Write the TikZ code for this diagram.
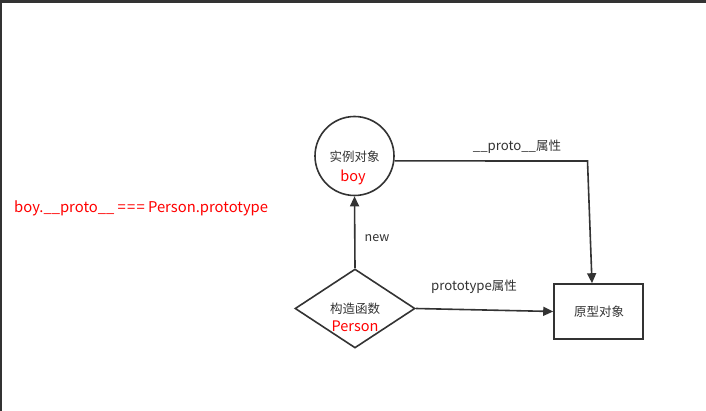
\documentclass[tikz,border=0pt]{standalone}
\usepackage{fontspec}
\setmainfont{Noto Sans CJK SC}
\newfontfamily\cjk{Noto Sans CJK SC}
\usetikzlibrary{shapes.geometric,arrows.meta}
\definecolor{ink}{HTML}{333333}
\definecolor{redtxt}{HTML}{FF0000}
\begin{document}
\begin{tikzpicture}[x=1pt,y=-1pt,
  shapeline/.style={draw=ink,line width=1.6pt,inner sep=0pt},
  conn/.style={draw=ink,line width=1.6pt,-{Triangle[length=10pt,width=9pt]}},
  lbl/.style={text=ink,font=\fontsize{13.2}{15}\selectfont,inner sep=0pt},
  cjklbl/.style={text=ink,font=\cjk\fontsize{12.5}{14}\selectfont,inner sep=0pt},
  redlbl/.style={text=redtxt,font=\fontsize{14.5}{16}\selectfont,inner sep=0pt}]
\useasboundingbox (0,0) rectangle (706,411);
\fill[white] (0,0) rectangle (706,411);
\fill[ink] (0,0) rectangle (706,3);
\fill[ink] (0,0) rectangle (2,411);
% nodes
\node[shapeline,circle,minimum size=79pt] (boy) at (354.5,156) {};
\node[cjklbl] (boyt1) at (354.5,157) {实例对象};
\node[redlbl] (boyt2) at (353,177) {boy};
\node[shapeline,diamond,minimum width=120pt,minimum height=79pt] (ctor) at (355,308.5) {};
\node[cjklbl] (ctort1) at (355,309) {构造函数};
\node[redlbl] (ctort2) at (355,326) {Person};
\node[shapeline,rectangle,minimum width=89pt,minimum height=55pt] (proto) at (598.5,311.5) {};
\node[cjklbl] (protot) at (599,312) {原型对象};
\node[redlbl,anchor=west,font=\fontsize{14.8}{16}\selectfont] (eq) at (14,208) {boy.\_\_proto\_\_ =\kern1.2pt=\kern1.2pt= Person.prototype};
% connectors
\draw[conn] (ctor.north) -- (boy.south);
\node[lbl,font=\fontsize{12.5}{14}\selectfont] (newl) at (377,238) {new};
\draw[conn] (ctor.east) -- (proto.west);
\node[lbl] (ptl) at (474,287) {prototype{\fontsize{12.5}{14}\selectfont 属性}};
\coordinate (bend) at (587.5,161);
\draw[conn] (boy.-7) -- (bend) -- ([xshift=-6.5pt]proto.north);
\node[lbl] (prl) at (517,147) {\_\_proto\_\_{\fontsize{12.5}{14}\selectfont 属性}};
\end{tikzpicture}
\end{document}
